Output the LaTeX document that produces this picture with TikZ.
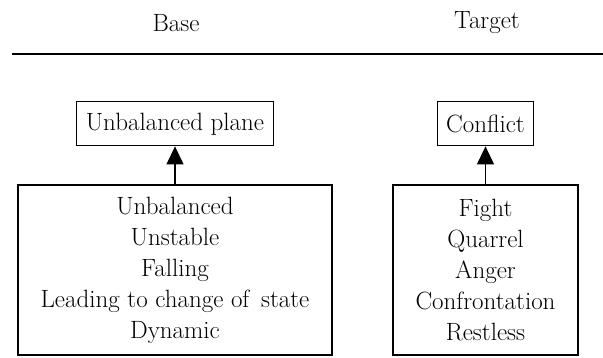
\documentclass[tikz,border=0pt]{standalone}
\usetikzlibrary{positioning, arrows.meta}
\tikzset{
every node/.style={font=\fontsize{25pt}{31pt}\selectfont}, % sets the text size for every node
box/.style={draw=black, line width=1.2pt, minimum height=44pt, inner xsep=9pt}, % the small boxes on top
list/.style={draw=black, line width=1.2pt, align=center, minimum height=170pt}, % the boxes with the lists
up/.style={line width=1.2pt, -{Triangle[width=17pt,length=18pt]}}, % arrow pointing up
}

\begin{document}
\begin{tikzpicture}[x=1pt, y=1pt]
      \useasboundingbox (0,0) rectangle (603,357);
      \node[list, minimum width=314pt] (unbalanced) at (175,87) {Unbalanced\\Unstable\\Falling\\Leading to change of\, state\\Dynamic};
      \node[list, minimum width=185pt] (fight) at (485.5,87) {Fight\\Quarrel\\Anger\\Confrontation\\Restless};
      \node[box, above=38pt of unbalanced] (plane) {Unbalanced plane};
      \node[box, above=38pt of fight] (conflict) {Conflict};
      \node (base) at (176,334) {Base};
      \node (target) at (487,334) {Target};
      \coordinate (rulestart) at (12,303);
      \coordinate (ruleend) at (603,303);

      \draw[line width=1.2pt] (rulestart) -- (ruleend);
      \draw (unbalanced) edge[up] (plane)
      (fight) edge[up] (conflict);
    \end{tikzpicture}
\end{document}
